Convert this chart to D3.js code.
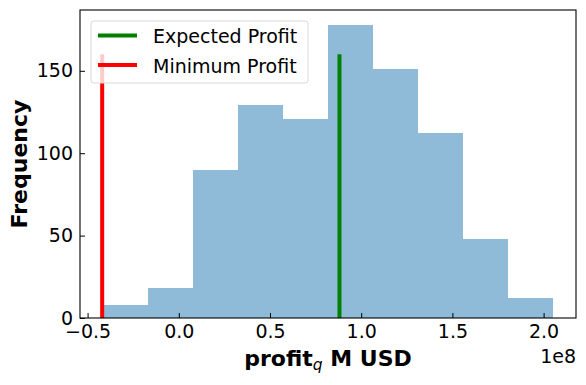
<!DOCTYPE html>
<html>
<head>
<meta charset="utf-8">
<script src="https://cdn.jsdelivr.net/npm/d3@7"></script>
<style>
  body { margin: 0; background: #fff; }
  svg { font-family: "DejaVu Sans", sans-serif; }
</style>
</head>
<body>
<svg id="chart" width="586" height="385"></svg>
<script>
// histogram bins (profit in units of 1e8 USD)
const binEdges = [-0.418, -0.171, 0.076, 0.324, 0.571, 0.818, 1.065, 1.312, 1.559, 1.807, 2.054];
const binCounts = [8, 18, 90, 129, 121, 178, 151, 112, 48, 12];
const xTicks = [-0.5, 0.0, 0.5, 1.0, 1.5, 2.0];
const yTicks = [0, 50, 100, 150];
const refLines = [
  { name: 'Expected Profit', value: 0.881, top: 160, color: 'green' },
  { name: 'Minimum Profit', value: -0.42, top: 160, color: 'red' }
];

const svg = d3.select('#chart');
const margin = { top: 10, right: 10, bottom: 67, left: 80 };
const width = +svg.attr('width');
const height = +svg.attr('height');
const innerWidth = width - margin.left - margin.right;
const innerHeight = height - margin.top - margin.bottom;

// matplotlib style 5% margins
const span = binEdges[binEdges.length - 1] - binEdges[0];
const xScale = d3.scaleLinear()
  .domain([binEdges[0] - span * 0.05, binEdges[binEdges.length - 1] + span * 0.05])
  .range([0, innerWidth]);

const yMax = d3.max(binCounts);
const yScale = d3.scaleLinear()
  .domain([0, yMax * 1.05])
  .range([innerHeight, 0]);

const g = svg.append('g')
  .attr('transform', `translate(${margin.left}, ${margin.top})`);

const bins = binCounts.map((c, i) => ({ x0: binEdges[i], x1: binEdges[i + 1], count: c }));

g.selectAll('rect.bar').data(bins)
  .enter().append('rect')
  .attr('class', 'bar')
  .attr('x', d => xScale(d.x0))
  .attr('width', d => xScale(d.x1) - xScale(d.x0))
  .attr('y', d => yScale(d.count))
  .attr('height', d => yScale(0) - yScale(d.count))
  .attr('fill', '#1f77b4')
  .attr('fill-opacity', 0.5)
  .attr('shape-rendering', 'crispEdges');

// vertical reference lines
g.selectAll('line.ref').data(refLines)
  .enter().append('line')
  .attr('class', 'ref')
  .attr('x1', d => xScale(d.value))
  .attr('x2', d => xScale(d.value))
  .attr('y1', yScale(0))
  .attr('y2', d => yScale(d.top))
  .attr('stroke', d => d.color)
  .attr('stroke-width', 4);

// axes with inward ticks
const xAxis = g.append('g')
  .attr('transform', `translate(0, ${innerHeight})`)
  .call(d3.axisBottom(xScale).tickValues(xTicks).tickSize(-5).tickPadding(7)
    .tickFormat(d => d3.format('.1f')(d).replace('-', '\u2212')));
const yAxis = g.append('g')
  .call(d3.axisLeft(yScale).tickValues(yTicks).tickSize(-5).tickPadding(7));

[xAxis, yAxis].forEach(a => {
  a.select('.domain').remove();
  a.selectAll('text').attr('font-size', 19).attr('fill', '#000')
    .attr('font-family', '"DejaVu Sans", sans-serif');
  a.selectAll('line').attr('stroke', '#000').attr('stroke-width', 1);
});
xAxis.selectAll('text').attr('dy', '0.71em');

// frame
g.append('rect')
  .attr('width', innerWidth)
  .attr('height', innerHeight)
  .attr('fill', 'none')
  .attr('stroke', '#000')
  .attr('stroke-width', 1.1);

// axis labels
const xLabel = svg.append('text')
  .attr('x', margin.left + innerWidth / 2)
  .attr('y', 366)
  .attr('text-anchor', 'middle')
  .attr('font-size', 22)
  .attr('font-weight', 'bold');
xLabel.append('tspan').text('profit');
xLabel.append('tspan').text('q').attr('font-style', 'italic').attr('font-weight', 'normal')
  .attr('font-size', 15.5).attr('dy', 4);
xLabel.append('tspan').text(' M USD').attr('dy', -4);

svg.append('text')
  .attr('transform', `translate(27, ${margin.top + innerHeight / 2}) rotate(-90)`)
  .attr('text-anchor', 'middle')
  .attr('font-size', 22)
  .attr('font-weight', 'bold')
  .text('Frequency');

// offset text
svg.append('text')
  .attr('x', margin.left + innerWidth)
  .attr('y', 362.5)
  .attr('text-anchor', 'end')
  .attr('font-size', 19)
  .text('1e8');

// legend
const legend = svg.append('g').attr('transform', 'translate(91, 21)');
legend.append('rect')
  .attr('width', 217)
  .attr('height', 62)
  .attr('rx', 3)
  .attr('fill', '#fff')
  .attr('fill-opacity', 0.8)
  .attr('stroke', '#d9d9d9');
const items = legend.selectAll('g.item').data(refLines)
  .enter().append('g')
  .attr('class', 'item')
  .attr('transform', (d, i) => `translate(0, ${14.5 + i * 29.5})`);
items.append('line')
  .attr('x1', 7).attr('x2', 46)
  .attr('stroke', d => d.color)
  .attr('stroke-width', 4);
items.append('text')
  .attr('x', 62)
  .attr('y', 7.5)
  .attr('font-size', 19)
  .text(d => d.name);
</script>
</body>
</html>
